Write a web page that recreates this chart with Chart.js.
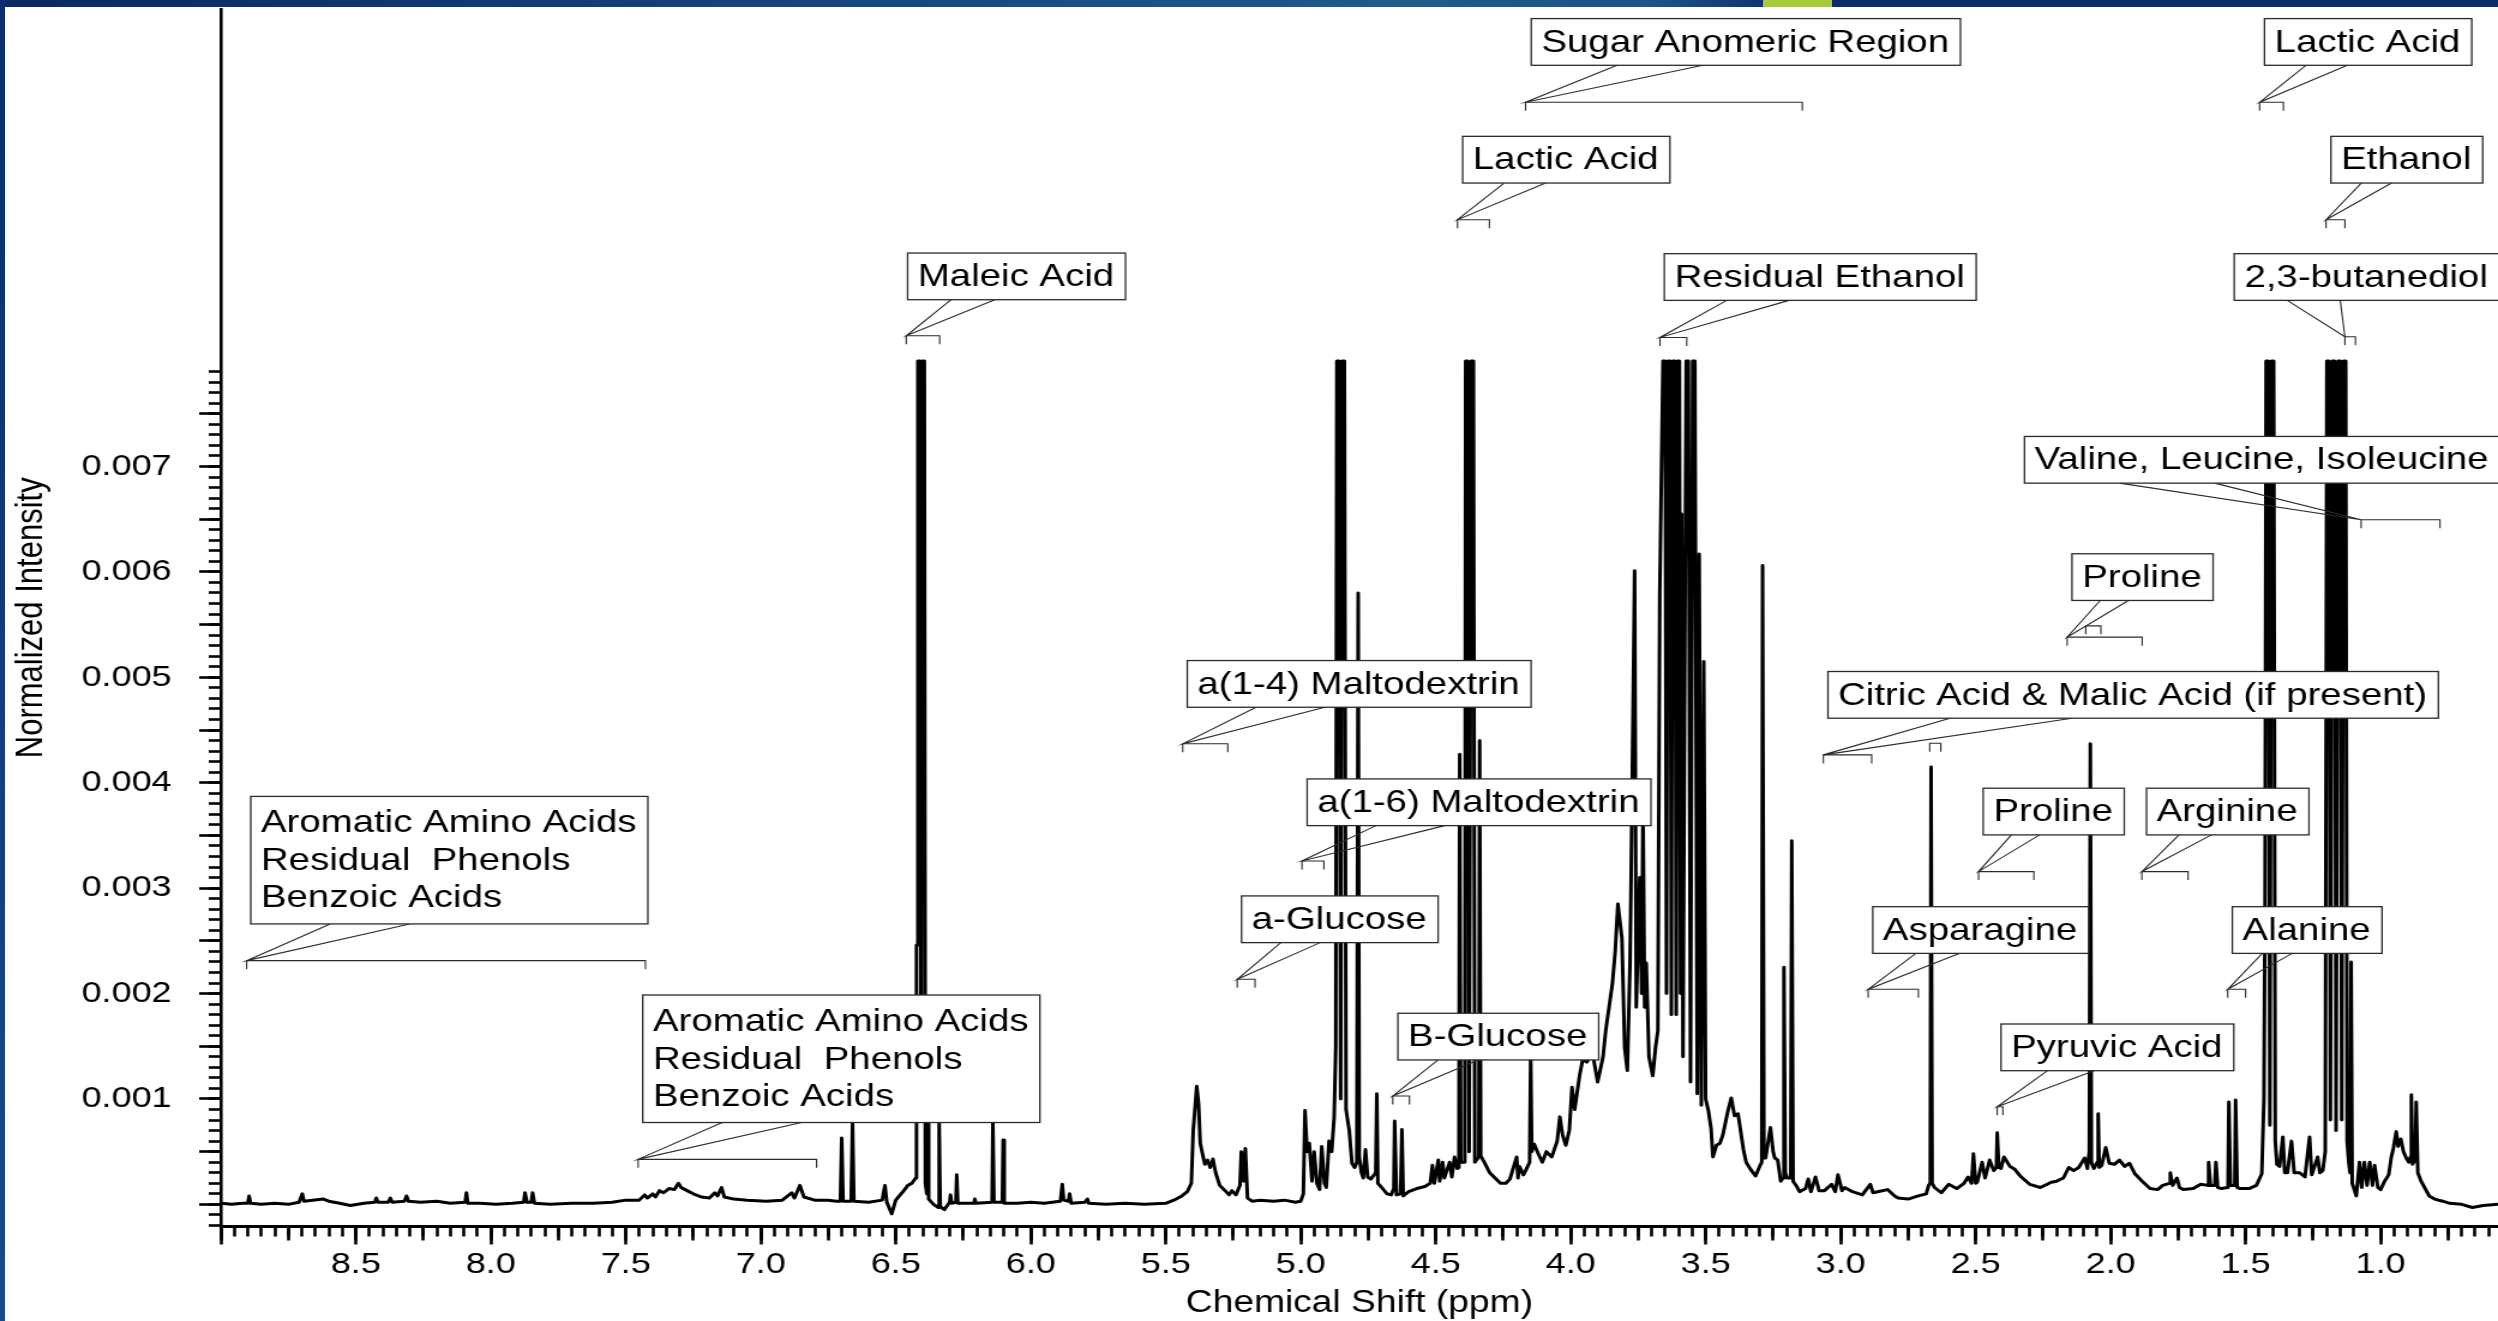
<!DOCTYPE html>
<html>
<head>
<meta charset="utf-8">
<title>1H NMR spectrum</title>
<script src="https://cdn.jsdelivr.net/npm/chart.js@4.4.1/dist/chart.umd.min.js"></script>
<style>
  html, body { margin: 0; padding: 0; background: #fff; }
  body { position: relative; width: 2498px; height: 1321px; overflow: hidden; }
  /* the chart is rendered narrow and stretched to the page width */
  #spectrum { position: absolute; left: 0; top: 0; }
  .band-top { position: absolute; left: 0; top: 0; width: 2498px; height: 7px;
    background: linear-gradient(to right, #0a2862 0px, #17497f 900px, #1e5b89 1400px, #1b5585 1650px, #0f3670 1763px, #0b2d6b 1764px, #0b2d6b 2498px); }
  .band-accent { position: absolute; left: 1763px; top: 0; width: 69px; height: 7px; background: #a6cb3a; }
  .band-left { position: absolute; left: 0; top: 0; width: 5px; height: 1321px;
    background: linear-gradient(to bottom, #0b2d6b, #1a4a88); }
</style>
</head>
<body>
<canvas id="spectrum" width="2082" height="1321" style="width:2498px;height:1321px"></canvas>
<div class="band-top"></div>
<div class="band-accent"></div>
<div class="band-left"></div>
<script>
// intensities below are in units of 1e-4 (normalized); off-scale peaks sit at the 0.008 ceiling
const INTENSITY_UNIT = 1e-4;

// [chemical shift (ppm), intensity]
const aromaticRegion = [
  [9.00, 0.1], [8.96, 0.0], [8.92, 0.1], [8.900, 0.1], [8.895, 0.8], [8.890, 0.1], [8.85, 0.0], [8.80, 0.1],
  [8.75, 0.0], [8.71, 0.2], [8.698, 1.0], [8.692, 0.3], [8.66, 0.4], [8.62, 0.5], [8.60, 0.3], [8.56, 0.1],
  [8.52, -0.1], [8.47, 0.1], [8.430, 0.2], [8.424, 0.6], [8.418, 0.2], [8.38, 0.2], [8.372, 0.6], [8.365, 0.2],
  [8.320, 0.3], [8.312, 0.8], [8.305, 0.3], [8.26, 0.2], [8.20, 0.3], [8.15, 0.1], [8.095, 0.2], [8.090, 1.1],
  [8.085, 0.1], [8.04, 0.1], [7.98, 0.0], [7.92, 0.1], [7.878, 0.2], [7.873, 1.1], [7.866, 0.2], [7.850, 0.2],
  [7.845, 1.1], [7.838, 0.1], [7.78, 0.0], [7.70, 0.1], [7.62, 0.1], [7.55, 0.2], [7.50, 0.4], [7.45, 0.4],
  [7.43, 0.9], [7.42, 0.6], [7.40, 1.0], [7.39, 0.7], [7.375, 1.3], [7.36, 1.1], [7.34, 1.5], [7.32, 1.4],
  [7.305, 2.0], [7.295, 1.6], [7.28, 1.4], [7.25, 1.0], [7.22, 0.7], [7.19, 0.6], [7.17, 1.1], [7.16, 0.8],
  [7.145, 1.6], [7.135, 0.7], [7.10, 0.5], [7.05, 0.4], [6.98, 0.3], [6.92, 0.4], [6.885, 1.1], [6.875, 0.6],
  [6.855, 1.8], [6.84, 0.7], [6.80, 0.4], [6.75, 0.4], [6.72, 0.3], [6.705, 0.3], [6.700, 6.3], [6.695, 0.3],
  [6.665, 0.3], [6.660, 7.9], [6.655, 0.3], [6.60, 0.2], [6.55, 0.4], [6.540, 1.8], [6.533, 0.2], [6.515, -0.9],
  [6.50, 0.4], [6.47, 1.3], [6.455, 1.8], [6.44, 2.0], [6.426, 2.5], [6.423, 24.6], [6.420, 24.6], [6.418, 80],
  [6.410, 80], [6.406, 8.0], [6.402, 80], [6.394, 80], [6.390, 2.0], [6.385, 1.0], [6.382, 8.0], [6.378, 0.5],
  [6.36, 0.0], [6.342, -0.3], [6.339, 7.8], [6.335, -0.2], [6.32, -0.5], [6.30, 0.2], [6.297, 0.9], [6.293, 0.1],
  [6.277, 0.2], [6.274, 2.8], [6.270, 0.1], [6.21, 0.1], [6.207, 0.5], [6.203, 0.1], [6.143, 0.2], [6.140, 7.8],
  [6.136, 0.2], [6.105, 0.2], [6.102, 6.1], [6.098, 0.1], [6.05, 0.1], [6.00, 0.2], [5.95, 0.1], [5.89, 0.3],
  [5.883, 1.9], [5.878, 0.4], [5.86, 0.3], [5.856, 1.0], [5.85, 0.1], [5.80, 0.2], [5.79, 0.5], [5.785, 0.1],
  [5.72, 0.0], [5.65, 0.1], [5.58, 0.0]
];

const anomericRegion = [
  [5.50, 0.1], [5.47, 0.4], [5.44, 0.8], [5.42, 1.2], [5.405, 2.0], [5.398, 7.0], [5.385, 11.2], [5.378, 9.5],
  [5.372, 5.8], [5.362, 4.6], [5.355, 3.8], [5.345, 4.2], [5.335, 3.5], [5.325, 4.3], [5.315, 3.0], [5.30, 1.8],
  [5.28, 1.3], [5.265, 0.9], [5.255, 1.3], [5.24, 0.9], [5.225, 1.8], [5.22, 5.0], [5.212, 2.2], [5.205, 5.3],
  [5.197, 0.6], [5.18, 0.3], [5.15, 0.4], [5.10, 0.3], [5.06, 0.4], [5.02, 0.2], [5.00, 0.3], [4.99, 1.0],
  [4.984, 8.9], [4.976, 5.0], [4.968, 5.8], [4.958, 2.2], [4.95, 5.0], [4.94, 2.0], [4.93, 1.4], [4.922, 5.5],
  [4.912, 2.0], [4.905, 1.6], [4.895, 6.0], [4.885, 5.0], [4.876, 8.3], [4.870, 15], [4.866, 80], [4.858, 80],
  [4.852, 10], [4.846, 80], [4.838, 80], [4.832, 9], [4.82, 7.0], [4.81, 3.9], [4.80, 3.5], [4.792, 4.0],
  [4.787, 58], [4.783, 4.5], [4.775, 3.0], [4.768, 2.5], [4.760, 5.2], [4.752, 2.6], [4.74, 2.4], [4.728, 2.8],
  [4.722, 3.0], [4.718, 10.5], [4.714, 2.0], [4.70, 1.6], [4.68, 1.0], [4.665, 0.9], [4.655, 1.5], [4.652, 7.9],
  [4.645, 0.9], [4.630, 1.0], [4.625, 7.1], [4.620, 0.8], [4.60, 1.2], [4.57, 1.5], [4.54, 1.7], [4.52, 2.0],
  [4.512, 3.7], [4.505, 2.0], [4.49, 4.2], [4.485, 2.2], [4.474, 4.0], [4.468, 2.5], [4.448, 4.0], [4.44, 2.6],
  [4.43, 4.5], [4.42, 3.4], [4.414, 3.5], [4.411, 42.7], [4.407, 4.0], [4.392, 4.0], [4.389, 80], [4.381, 80],
  [4.376, 5.0], [4.368, 80], [4.360, 80], [4.355, 4.0], [4.340, 4.5], [4.337, 44], [4.333, 4.6], [4.32, 4.0],
  [4.30, 3.0], [4.28, 2.5], [4.26, 2.0], [4.24, 2.0], [4.225, 2.4], [4.20, 4.5], [4.195, 2.5], [4.19, 3.6],
  [4.175, 2.8], [4.165, 3.3], [4.152, 4.0], [4.148, 14], [4.144, 5.0], [4.135, 5.7], [4.12, 4.8], [4.105, 4.0]
];

const sugarRegion = [
  [4.09, 5.0], [4.07, 4.5], [4.05, 6.0], [4.04, 8.3], [4.03, 6.6], [4.018, 5.6], [4.005, 7.0], [3.995, 11.1],
  [3.985, 9.0], [3.967, 12.2], [3.955, 13.8], [3.94, 13.5], [3.92, 14.5], [3.90, 11.6], [3.88, 14.0], [3.87, 16.5],
  [3.845, 21.0], [3.835, 24], [3.825, 28.5], [3.81, 25.2], [3.80, 14.9], [3.79, 12.7], [3.78, 23.0], [3.776, 31.2],
  [3.763, 60.1], [3.757, 18.7], [3.744, 31], [3.737, 20], [3.732, 37.8], [3.726, 18.7], [3.72, 22.9], [3.71, 14],
  [3.696, 12.2], [3.685, 15], [3.677, 16.5], [3.67, 57.9], [3.662, 72.6], [3.658, 80], [3.650, 80], [3.645, 20],
  [3.640, 80], [3.632, 80], [3.627, 18], [3.622, 80], [3.614, 80], [3.609, 18], [3.604, 80], [3.597, 80],
  [3.593, 20], [3.589, 65.5], [3.584, 14], [3.572, 80], [3.564, 80], [3.556, 11.6], [3.548, 80], [3.540, 80],
  [3.531, 10.5], [3.524, 61.7], [3.516, 9.4], [3.507, 51.5], [3.500, 10], [3.49, 8.9], [3.48, 7.2], [3.473, 4.5],
  [3.46, 5.6], [3.447, 5.8], [3.436, 6.6], [3.418, 8.8], [3.405, 10.1], [3.393, 8.4], [3.38, 8.6], [3.36, 5.2],
  [3.35, 4.0], [3.333, 3.3], [3.315, 2.7], [3.30, 3.6], [3.292, 4.0], [3.289, 60.6], [3.284, 4.4], [3.278, 4.4],
  [3.26, 7.3], [3.25, 5.0], [3.244, 4.4], [3.233, 4.2], [3.222, 2.2], [3.213, 2.5], [3.210, 22.5], [3.205, 3.0],
  [3.198, 2.5], [3.185, 2.5], [3.181, 34.5], [3.176, 2.2], [3.165, 1.8], [3.152, 1.2]
];

const aliphaticRegion = [
  [3.13, 1.5], [3.12, 2.4], [3.11, 1.2], [3.093, 2.6], [3.08, 1.3], [3.06, 1.3], [3.033, 1.9], [3.02, 1.2],
  [3.01, 2.8], [2.995, 1.3], [2.985, 1.6], [2.956, 1.2], [2.92, 0.9], [2.89, 1.9], [2.88, 1.1], [2.863, 1.2],
  [2.826, 1.4], [2.80, 0.8], [2.787, 0.6], [2.75, 0.5], [2.712, 0.8], [2.683, 1.0], [2.674, 1.8], [2.668, 2.0],
  [2.665, 41.5], [2.661, 2.0], [2.652, 1.6], [2.627, 1.1], [2.60, 1.9], [2.57, 1.5], [2.543, 2.0], [2.528, 2.6],
  [2.515, 2.0], [2.508, 4.8], [2.50, 2.0], [2.494, 2.1], [2.476, 4.0], [2.465, 2.5], [2.448, 4.2], [2.433, 3.2],
  [2.423, 3.5], [2.420, 6.8], [2.414, 3.5], [2.406, 3.4], [2.395, 4.5], [2.373, 3.6], [2.354, 3.3], [2.335, 2.7],
  [2.30, 1.9], [2.26, 1.6], [2.22, 2.1], [2.20, 2.2], [2.175, 2.5], [2.155, 3.5], [2.137, 3.2], [2.118, 3.5],
  [2.096, 4.4], [2.086, 3.4], [2.079, 5.0], [2.075, 43.7], [2.071, 4.0], [2.062, 3.4], [2.049, 4.0], [2.046, 8.6],
  [2.042, 3.5], [2.033, 3.7], [2.018, 5.4], [2.005, 3.9], [1.986, 3.8], [1.967, 4.2], [1.948, 3.6], [1.93, 3.9],
  [1.91, 2.9], [1.883, 2.2], [1.854, 1.5], [1.826, 1.4], [1.807, 1.8], [1.782, 2.0], [1.779, 3.0], [1.770, 1.8],
  [1.754, 2.5], [1.745, 1.6], [1.731, 1.4], [1.694, 1.5], [1.666, 1.9], [1.640, 1.8], [1.637, 4.0], [1.630, 1.8],
  [1.614, 1.8], [1.610, 4.0], [1.603, 1.6], [1.59, 1.5], [1.565, 1.6], [1.562, 9.7], [1.556, 1.8], [1.540, 1.8],
  [1.537, 9.9], [1.531, 1.6], [1.52, 1.5], [1.487, 1.5], [1.46, 1.8], [1.44, 2.9], [1.432, 10], [1.428, 29],
  [1.424, 80], [1.416, 80], [1.410, 7.5], [1.404, 80], [1.396, 80], [1.390, 6.0], [1.384, 3.8], [1.374, 3.6],
  [1.362, 6.4], [1.355, 3.0], [1.345, 3.0], [1.33, 6.0], [1.32, 3.0], [1.30, 3.0], [1.28, 2.6], [1.263, 6.4],
  [1.255, 2.8], [1.233, 4.5], [1.225, 3.0], [1.214, 3.2], [1.205, 5.0], [1.199, 80], [1.191, 80], [1.186, 8.0],
  [1.178, 80], [1.170, 80], [1.165, 7.0], [1.157, 80], [1.149, 80], [1.144, 8.0], [1.137, 80], [1.129, 80],
  [1.124, 6.0], [1.118, 4.0], [1.113, 3.0], [1.109, 23], [1.105, 2.0], [1.09, 0.8], [1.078, 4.0], [1.07, 1.6],
  [1.06, 4.0], [1.05, 1.8], [1.04, 4.0], [1.03, 1.8], [1.022, 3.7], [1.01, 1.6], [1.00, 1.4], [0.985, 2.2],
  [0.97, 2.8], [0.96, 4.5], [0.952, 5.4], [0.942, 6.9], [0.935, 5.5], [0.925, 6.2], [0.915, 5.0], [0.905, 4.4],
  [0.895, 4.0], [0.889, 4.5], [0.886, 10.4], [0.882, 3.8], [0.872, 4.2], [0.868, 9.7], [0.862, 3.0], [0.85, 2.2],
  [0.837, 1.6], [0.82, 0.8], [0.80, 0.5], [0.77, 0.3], [0.744, 0.1], [0.70, 0.0], [0.66, -0.3], [0.62, -0.1],
  [0.565, 0.0]
];

// axis labels
const shiftTicks = [8.5, 8.0, 7.5, 7.0, 6.5, 6.0, 5.5, 5.0, 4.5, 4.0, 3.5, 3.0, 2.5, 2.0, 1.5, 1.0];
const shiftTickLabels = ['8.5', '8.0', '7.5', '7.0', '6.5', '6.0', '5.5', '5.0', '4.5', '4.0', '3.5', '3.0', '2.5', '2.0', '1.5', '1.0'];
const intensityTicks = [0.001, 0.002, 0.003, 0.004, 0.005, 0.006, 0.007];
const intensityTickLabels = ['0.001', '0.002', '0.003', '0.004', '0.005', '0.006', '0.007'];

// assignments: bracketed shift range, bracket height and label box corner (ppm, intensity)
const callouts = [
  { text: 'Aromatic Amino Acids\nResidual  Phenols\nBenzoic Acids', range: [8.904, 7.427], level: 0.002312, box: [8.889, 0.00387] },
  { text: 'Aromatic Amino Acids\nResidual  Phenols\nBenzoic Acids', range: [7.454, 6.793], level: 0.000427, box: [7.437, 0.001986] },
  { text: 'Maleic Acid', range: [6.461, 6.337], level: 0.00824, box: [6.456, 0.009025] },
  { text: 'Sugar Anomeric Region', range: [4.167, 3.142], level: 0.010455, box: [4.146, 0.011249] },
  { text: 'Lactic Acid', range: [4.419, 4.301], level: 0.009341, box: [4.400, 0.010132] },
  { text: 'Residual Ethanol', range: [3.669, 3.570], level: 0.008224, box: [3.653, 0.009019] },
  { text: 'a(1-4) Maltodextrin', range: [5.437, 5.270], level: 0.004369, box: [5.420, 0.005159] },
  { text: 'a(1-6) Maltodextrin', range: [4.995, 4.914], level: 0.003258, box: [4.976, 0.004036] },
  { text: 'a-Glucose', range: [5.235, 5.169], level: 0.002135, box: [5.219, 0.002926] },
  { text: 'B-Glucose', range: [4.659, 4.597], level: 0.001028, box: [4.640, 0.001813] },
  { text: 'Lactic Acid', range: [1.448, 1.360], level: 0.010455, box: [1.430, 0.011249] },
  { text: 'Ethanol', range: [1.202, 1.132], level: 0.009341, box: [1.184, 0.010132] },
  { text: '2,3-butanediol', range: [1.132, 1.093], level: 0.008231, box: [1.542, 0.009019] },
  { text: 'Valine, Leucine, Isoleucine', range: [1.072, 0.780], level: 0.006494, box: [2.319, 0.007285] },
  { text: 'Proline', range: [2.161, 1.883], level: 0.005381, box: [2.143, 0.006172], inner: [2.092, 2.036, 0.005488] },
  { text: 'Citric Acid & Malic Acid (if present)', range: [3.064, 2.885], level: 0.004264, box: [3.047, 0.005055], inner: [2.670, 2.629, 0.004375] },
  { text: 'Proline', range: [2.489, 2.284], level: 0.003157, box: [2.472, 0.003948] },
  { text: 'Arginine', range: [1.884, 1.713], level: 0.003157, box: [1.867, 0.003948] },
  { text: 'Asparagine', range: [2.898, 2.712], level: 0.00204, box: [2.881, 0.002824] },
  { text: 'Alanine', range: [1.566, 1.500], level: 0.00204, box: [1.549, 0.002824] },
  { text: 'Pyruvic Acid', range: [2.420, 2.399], level: 0.000926, box: [2.406, 0.001711] }
];

const FONT = '"Liberation Sans", Arial, Helvetica, sans-serif';

function steps(from, to, step) {
  const out = [];
  for (let v = from; v <= to + step / 2; v += step) out.push(+v.toFixed(5));
  return out;
}

function labelFor(values, labels, v) {
  const i = values.findIndex((t) => Math.abs(t - v) < 1e-9);
  return i < 0 ? '' : labels[i];
}

function bracket(ctx, x1, x2, y) {
  ctx.beginPath();
  ctx.moveTo(x1, y + 8.5);
  ctx.lineTo(x1, y);
  ctx.lineTo(x2, y);
  ctx.lineTo(x2, y + 8.5);
  ctx.stroke();
}

const calloutPlugin = {
  id: 'callouts',
  afterDatasetsDraw(chart) {
    const { ctx } = chart;
    const xs = chart.scales.x;
    const ys = chart.scales.y;
    ctx.save();
    ctx.font = '32px ' + FONT;
    ctx.textBaseline = 'alphabetic';
    ctx.textAlign = 'left';
    for (const c of callouts) {
      const lines = c.text.split('\n');
      const left = xs.getPixelForValue(c.box[0]);
      const top = ys.getPixelForValue(c.box[1]);
      const width = Math.max(...lines.map((t) => ctx.measureText(t).width)) + 18;
      const height = lines.length > 1 ? 127.5 : 46.7;
      const tipX = xs.getPixelForValue(c.range[0]);
      const endX = xs.getPixelForValue(c.range[1]);
      const tipY = ys.getPixelForValue(c.level);

      ctx.strokeStyle = '#2a2a2a';
      ctx.lineWidth = 1.1;
      bracket(ctx, tipX, endX, tipY);
      if (c.inner) {
        bracket(ctx, xs.getPixelForValue(c.inner[0]), xs.getPixelForValue(c.inner[1]), ys.getPixelForValue(c.inner[2]));
      }
      ctx.beginPath();
      ctx.moveTo(left + width * 0.2, top + height);
      ctx.lineTo(tipX, tipY);
      ctx.lineTo(left + width * 0.4, top + height);
      ctx.stroke();

      ctx.fillStyle = '#fff';
      ctx.fillRect(left, top, width, height);
      ctx.lineWidth = 1.3;
      ctx.strokeRect(left, top, width, height);
      ctx.fillStyle = '#000';
      const first = lines.length > 1 ? 36 : 33;
      lines.forEach((t, i) => ctx.fillText(t, left + 8.5, top + first + i * 37.5));
    }
    ctx.restore();
  }
};

const spectrum = aromaticRegion.concat(anomericRegion, sugarRegion, aliphaticRegion)
  .map(([ppm, v]) => ({ x: ppm, y: v * INTENSITY_UNIT }));

const shiftMin = 0.565;
const shiftMax = 9.0;
const intensityMin = -0.00021;
const intensityMax = 0.01134;

function shiftAxis(extra) {
  return Object.assign({
    type: 'linear',
    position: 'bottom',
    reverse: true,
    min: shiftMin,
    max: shiftMax,
    ticks: { display: false, autoSkip: false },
    grid: { drawOnChartArea: false, tickWidth: 2.6, tickColor: '#000' },
    border: { display: false }
  }, extra);
}

function intensityAxis(extra) {
  return Object.assign({
    type: 'linear',
    position: 'left',
    min: intensityMin,
    max: intensityMax,
    ticks: { display: false, autoSkip: false },
    grid: { drawOnChartArea: false, tickWidth: 2.6, tickColor: '#000' },
    border: { display: false }
  }, extra);
}

Chart.defaults.font.family = FONT;
Chart.defaults.color = '#000';

const ctx = document.getElementById('spectrum').getContext('2d');
new Chart(ctx, {
  type: 'line',
  data: {
    datasets: [{
      data: spectrum,
      borderColor: '#000',
      borderWidth: 3,
      borderJoinStyle: 'round',
      pointRadius: 0,
      tension: 0,
      fill: false
    }]
  },
  options: {
    responsive: false,
    devicePixelRatio: 1,
    animation: false,
    events: [],
    layout: { autoPadding: false, padding: { top: 9, left: 0, right: 0, bottom: 0 } },
    plugins: { legend: { display: false }, tooltip: { enabled: false } },
    scales: {
      x: shiftAxis({
        weight: 2,
        afterBuildTicks: (axis) => { axis.ticks = steps(1.0, 9.0, 0.5).map((value) => ({ value })); },
        afterFit: (axis) => { axis.height = 94.5; axis.paddingLeft = 0; axis.paddingRight = 0; },
        ticks: {
          display: true, autoSkip: false, maxRotation: 0, minRotation: 0, padding: 2,
          color: '#000', font: { size: 30 },
          callback: (v) => labelFor(shiftTicks, shiftTickLabels, v)
        },
        grid: { drawOnChartArea: false, tickLength: 18, tickWidth: 2.6, tickColor: '#000' },
        border: { display: true, color: '#000', width: 3 },
        title: { display: true, text: 'Chemical Shift (ppm)', color: '#000', font: { size: 31, lineHeight: 1 }, padding: { top: 0, bottom: 2.5 } }
      }),
      xMid: shiftAxis({
        weight: 1,
        afterBuildTicks: (axis) => { axis.ticks = steps(0.75, 9.0, 0.25).map((value) => ({ value })); },
        afterFit: (axis) => { axis.height = 0; axis.paddingLeft = 0; axis.paddingRight = 0; },
        grid: { drawOnChartArea: false, tickLength: 14, tickWidth: 2.6, tickColor: '#000' }
      }),
      xMinor: shiftAxis({
        weight: 0,
        afterBuildTicks: (axis) => { axis.ticks = steps(0.6, 9.0, 0.05).map((value) => ({ value })); },
        afterFit: (axis) => { axis.height = 0; axis.paddingLeft = 0; axis.paddingRight = 0; },
        grid: { drawOnChartArea: false, tickLength: 10, tickWidth: 2.6, tickColor: '#000' }
      }),
      y: intensityAxis({
        weight: 1,
        afterBuildTicks: (axis) => { axis.ticks = steps(0, 0.0075, 0.0005).map((value) => ({ value })); },
        afterFit: (axis) => { axis.width = 184; axis.paddingTop = 0; axis.paddingBottom = 0; },
        ticks: {
          display: true, autoSkip: false, padding: 23, color: '#000', font: { size: 30 },
          callback: (v) => labelFor(intensityTicks, intensityTickLabels, v)
        },
        grid: { drawOnChartArea: false, tickLength: 18, tickWidth: 2.6, tickColor: '#000' },
        border: { display: true, color: '#000', width: 2.6 },
        title: { display: true, text: 'Normalized Intensity', color: '#000', font: { size: 31 }, padding: { top: 7.7, bottom: 0 } }
      }),
      yMinor: intensityAxis({
        weight: 0,
        afterBuildTicks: (axis) => { axis.ticks = steps(-0.0002, 0.0079, 0.0001).map((value) => ({ value })); },
        afterFit: (axis) => { axis.width = 0; axis.paddingTop = 0; axis.paddingBottom = 0; },
        grid: { drawOnChartArea: false, tickLength: 10, tickWidth: 2.6, tickColor: '#000' }
      })
    }
  },
  plugins: [calloutPlugin]
});
</script>
</body>
</html>
